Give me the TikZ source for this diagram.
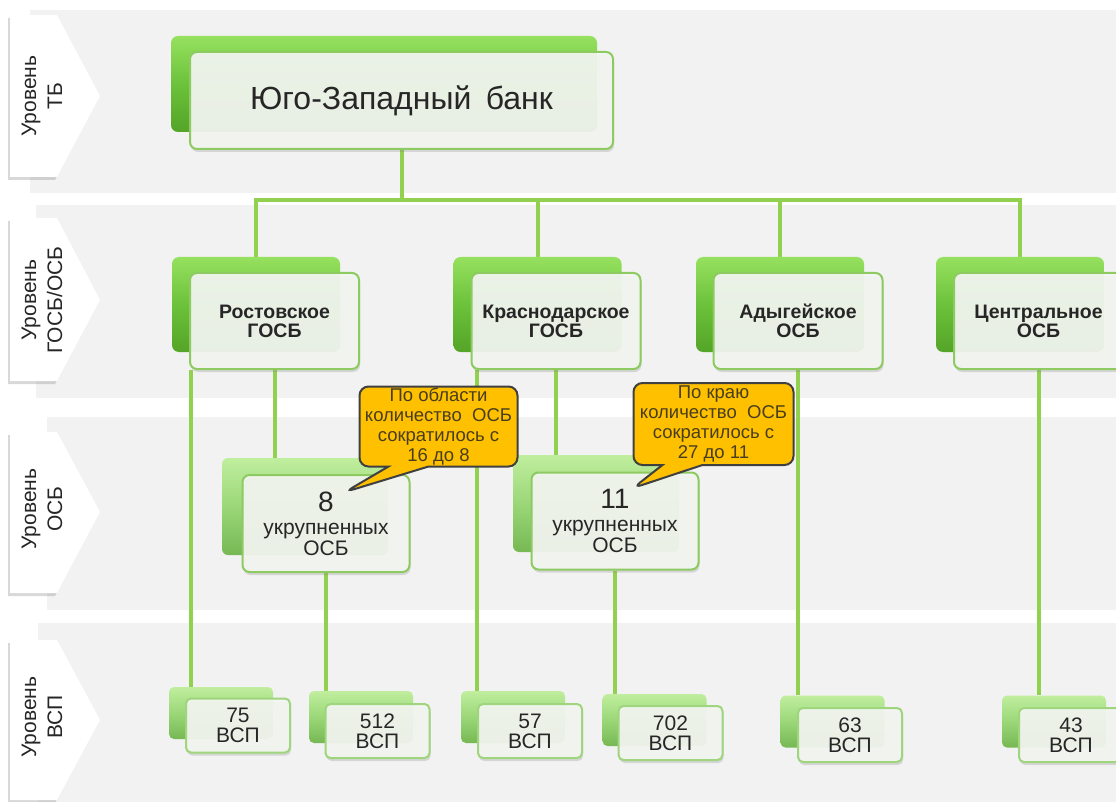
\documentclass[tikz,border=0pt]{standalone}
\usepackage{fontspec}
\setmainfont{Liberation Sans}
\usetikzlibrary{calc,shadows,shapes.callouts}

\definecolor{bandgray}{RGB}{242,242,242}
\definecolor{linkgreen}{RGB}{146,208,80}
\definecolor{rimgreen}{RGB}{141,203,98}
\definecolor{rimlight}{RGB}{158,213,125}
\definecolor{faceg}{RGB}{244,246,242}
\definecolor{darkTop}{RGB}{150,225,95}
\definecolor{darkMid}{RGB}{108,194,58}
\definecolor{darkBot}{RGB}{84,164,40}
\definecolor{paleTop}{RGB}{192,238,158}
\definecolor{paleMid}{RGB}{155,215,120}
\definecolor{paleBot}{RGB}{118,184,84}
\definecolor{notefill}{RGB}{255,192,0}
\definecolor{noteline}{RGB}{64,64,64}
\definecolor{notetext}{RGB}{72,62,30}
\definecolor{inktext}{RGB}{38,38,38}

\pgfdeclarelayer{bands}
\pgfdeclarelayer{links}
\pgfsetlayers{bands,links,main}

\tikzset{
  band/.style={fill=bandgray},
  chevron/.style={fill=white, drop shadow={shadow xshift=-2pt, shadow yshift=-3pt, opacity=0.3}},
  lvltext/.style={rotate=90, align=center, text=inktext, font=\fontsize{21}{26}\selectfont},
  link/.style={draw=linkgreen, line width=4pt},
  backbig/.style={rounded corners=7pt, top color=darkTop, bottom color=darkBot, middle color=darkMid, inner sep=0pt},
  backsmall/.style={rounded corners=6pt, top color=paleTop, bottom color=paleBot, middle color=paleMid, inner sep=0pt},
  face/.style={rounded corners=7pt, draw=rimgreen, line width=2pt, fill=faceg, fill opacity=0.92,
    text opacity=1, text=inktext, align=center, inner sep=0pt,
    drop shadow={shadow xshift=1pt, shadow yshift=-3pt, opacity=0.25}},
  bankback/.style={backbig, minimum width=426pt, minimum height=96pt},
  bankface/.style={face, minimum width=423pt, minimum height=97pt, font=\fontsize{32}{35}\selectfont},
  gosbback/.style={backbig, minimum width=168pt, minimum height=95pt},
  gosbface/.style={face, minimum width=169pt, minimum height=96pt, font=\bfseries\fontsize{19.5}{19}\selectfont},
  osbback/.style={backsmall, minimum width=166pt, minimum height=97pt},
  osbface/.style={face, minimum width=167pt, minimum height=97pt, font=\fontsize{21}{21}\selectfont},
  vspback/.style={backsmall, rounded corners=5pt, minimum width=104pt, minimum height=52pt},
  vspface/.style={face, draw=rimlight, rounded corners=5pt, minimum width=104pt, minimum height=54pt,
    font=\fontsize{21}{20}\selectfont},
  note/.style={rectangle callout, rounded corners=9pt, fill=notefill, draw=noteline, line width=2pt,
    text=notetext, align=center, inner sep=0pt, minimum width=158pt, minimum height=80pt,
    callout pointer width=40pt, font=\fontsize{18.5}{20}\selectfont}
}

\begin{document}
\begin{tikzpicture}[x=1pt,y=-1pt]
\useasboundingbox (0,0) rectangle (1116,802);

% grey level bands
\begin{pgfonlayer}{bands}
  \fill[white] (0,0) rectangle (1116,802);
  \fill[band] (30,10) rectangle (1116,193);
  \fill[band] (36,205) rectangle (1116,398);
  \fill[band] (47,417) rectangle (1116,610);
  \fill[band] (38,623) rectangle (1116,802);
\end{pgfonlayer}

% level labels
\path[chevron] (10,15) -- (57,15) -- (100,96) -- (57,177) -- (10,177) -- cycle;
\node[lvltext] (lvlTB) at (42,96) {Уровень\\ТБ};
\path[chevron] (10,218) -- (57,218) -- (100,300) -- (57,381) -- (10,381) -- cycle;
\node[lvltext] (lvlGOSB) at (42,300) {Уровень\\ГОСБ/ОСБ};
\path[chevron] (10,432) -- (57,432) -- (100,512) -- (57,593) -- (10,593) -- cycle;
\node[lvltext] (lvlOSB) at (42,509) {Уровень\\ОСБ};
\path[chevron] (10,640) -- (57,640) -- (100,720) -- (57,800) -- (10,800) -- cycle;
\node[lvltext] (lvlVSP) at (42,717) {Уровень\\ВСП};

% bank
\node[bankback] (bankB) at (384,84) {};
\node[bankface] (bank) at (401.5,100.5) {Юго-Западный\hspace{0.45em}банк};

% GOSB / OSB level
\node[gosbback] (rostB) at (256,304.5) {};
\node[gosbface] (rost) at (274.5,321) {Ростовское\\ГОСБ};
\node[gosbback] (krasB) at (537.5,304.5) {};
\node[gosbface] (kras) at (556,321) {Краснодарское\\ГОСБ};
\node[gosbback] (adygB) at (780,304.5) {};
\node[gosbface] (adyg) at (798,321) {Адыгейское\\ОСБ};
\node[gosbback] (centrB) at (1020,304.5) {};
\node[gosbface] (centr) at (1038.5,321) {Центральное\\ОСБ};

% merged OSB
\node[osbback] (osb8B) at (305,506.5) {};
\node[osbface] (osb8) at (326,523.5) {{\fontsize{28}{28}\selectfont 8}\\[2pt]укрупненных\\ОСБ};
\node[osbback] (osb11B) at (596,503.5) {};
\node[osbface] (osb11) at (615,521) {{\fontsize{28}{28}\selectfont 11}\\[2pt]укрупненных\\ОСБ};

% VSP level
\node[vspback] (v75B) at (221,713) {};
\node[vspface] (v75) at (238,725.5) {75\\ВСП};
\node[vspback] (v512B) at (361,717) {};
\node[vspface] (v512) at (377.5,731) {512\\ВСП};
\node[vspback] (v57B) at (513,717) {};
\node[vspface] (v57) at (530,731) {57\\ВСП};
\node[vspback] (v702B) at (654.5,720) {};
\node[vspface] (v702) at (670.5,733) {702\\ВСП};
\node[vspback] (v63B) at (832.5,721.5) {};
\node[vspface] (v63) at (850,735) {63\\ВСП};
\node[vspback] (v43B) at (1054,721.5) {};
\node[vspface] (v43) at (1071,735) {43\\ВСП};

% connectors
\begin{pgfonlayer}{links}
  \coordinate (bus) at (0,200);
  \draw[link] (bank.south) -- (bank.south |- bus);
  \draw[link, line cap=rect] (rostB.north |- bus) -- (centrB.north |- bus);
  \foreach \g in {rostB,krasB,adygB,centrB}
    \draw[link] (\g.north |- bus) -- (\g.north);
  \draw[link] ([xshift=2pt]rost.south west) -- ([xshift=2pt]rost.south west |- v75B.north);
  \draw[link] (rost.south) -- (rost.south |- osb8B.north);
  \draw[link] (osb8.south) -- (osb8.south |- v512B.north);
  \draw[link] ([xshift=6pt]kras.south west) -- ([xshift=6pt]kras.south west |- v57B.north);
  \draw[link] (kras.south) -- (kras.south |- osb11B.north);
  \draw[link] (osb11.south) -- (osb11.south |- v702B.north);
  \draw[link] (adyg.south) -- (adyg.south |- v63B.north);
  \draw[link] (centr.south) -- (centr.south |- v43B.north);
\end{pgfonlayer}

% notes
\coordinate (tip8) at (345,492);
\coordinate (tip11) at (633,488);
\node[note, callout absolute pointer={(tip8)}] (note8) at (438.5,426.5)
  {По области\\количество\ \ ОСБ\\сократилось с\\16 до 8};
\node[note, callout absolute pointer={(tip11)}, minimum width=160pt, minimum height=82pt] (note11) at (713.5,424)
  {По краю\\количество\ \ ОСБ\\сократилось с\\27 до 11};
\end{tikzpicture}
\end{document}
